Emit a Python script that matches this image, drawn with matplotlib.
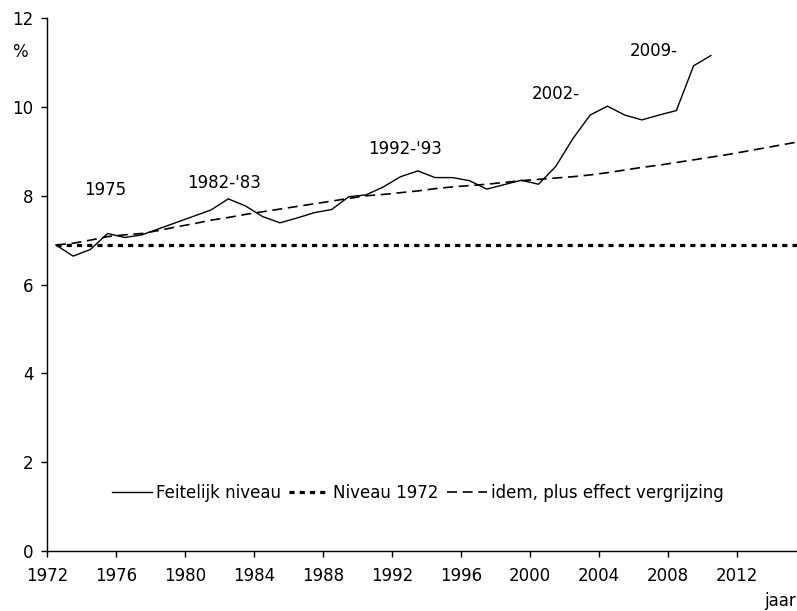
import matplotlib
matplotlib.use("Agg")
import matplotlib.pyplot as plt
import numpy as np

plt.rcParams['font.family'] = ['DejaVu Sans']

# --- data -------------------------------------------------------------
years_actual = list(range(1972, 2011))
feitelijk = [6.89, 6.64, 6.79, 7.15, 7.06, 7.12, 7.26, 7.40, 7.54, 7.68,
             7.93, 7.77, 7.53, 7.39, 7.50, 7.62, 7.69, 7.98, 8.02, 8.20,
             8.43, 8.56, 8.41, 8.41, 8.34, 8.15, 8.25, 8.35, 8.26, 8.66,
             9.29, 9.82, 10.02, 9.82, 9.71, 9.82, 9.92, 10.93, 11.16]

years_proj = list(range(1972, 2017))
niveau_1972 = [6.89] * len(years_proj)
vergrijzing = [6.89, 6.93, 7.00, 7.08, 7.12, 7.15, 7.22, 7.30, 7.37, 7.45,
               7.51, 7.58, 7.64, 7.70, 7.76, 7.82, 7.88, 7.94, 8.00, 8.03,
               8.07, 8.11, 8.16, 8.20, 8.23, 8.26, 8.30, 8.34, 8.37, 8.40,
               8.43, 8.47, 8.52, 8.58, 8.64, 8.69, 8.75, 8.81, 8.87, 8.93,
               9.00, 9.07, 9.14, 9.21, 9.28]

annot_labels = ["1975", "1982-'83", "1992-'93", "2002-", "2009-"]
annot_x = [1975.35, 1982.25, 1992.73, 2001.5, 2007.2]
annot_y = [8.13, 8.28, 9.05, 10.29, 11.27]

xticks = list(range(1972, 2016, 4))
yticks = list(range(0, 13, 2))

legend_labels = ["Feitelijk niveau", "Niveau 1972", "idem, plus effect vergrijzing"]

# --- figure -----------------------------------------------------------
FS = 12
fig = plt.figure(figsize=(7.97, 6.11), dpi=100)
ax = fig.add_axes([47.3 / 797, 1 - 550.7 / 611, 1 - 47.3 / 797, (550.7 - 18.3) / 611])

xa = np.array(years_actual) + 0.5
xp = np.array(years_proj) + 0.5

l1, = ax.plot(xa, feitelijk, color='black', lw=1.0, solid_joinstyle='miter')
l2, = ax.plot(xp, niveau_1972, color='black', lw=2.3, linestyle=(0, (1.6, 1.6)),
              dash_capstyle='butt')
l3, = ax.plot(xp, vergrijzing, color='black', lw=1.2, linestyle=(0, (6, 3.4)),
              dash_capstyle='butt')

for t, x, y in zip(annot_labels, annot_x, annot_y):
    ax.text(x, y, t, ha='center', va='center', fontsize=FS)

ax.set_xlim(1972, 2015.5)
ax.set_ylim(0, 12)
ax.set_xticks(xticks)
ax.set_yticks(yticks)
ax.tick_params(axis='both', direction='out', length=4, width=1, labelsize=FS,
               color='black')
ax.tick_params(axis='x', pad=8)
ax.tick_params(axis='y', pad=6)
for s in ['top', 'right']:
    ax.spines[s].set_visible(False)
for s in ['left', 'bottom']:
    ax.spines[s].set_linewidth(1.0)

leg = ax.legend([l1, l2, l3], legend_labels, loc='center', bbox_to_anchor=(0.494, 0.108),
                ncol=3, frameon=False, fontsize=FS, handlelength=2.4,
                handletextpad=0.25, columnspacing=0.5, borderpad=0)

fig.text(20 / 797, 1 - 52 / 611, '%', ha='center', va='center', fontsize=FS)
fig.text(0.999, 1 - 601 / 611, 'jaar', ha='right', va='center', fontsize=FS)

fig.savefig('out.png', dpi=100)
